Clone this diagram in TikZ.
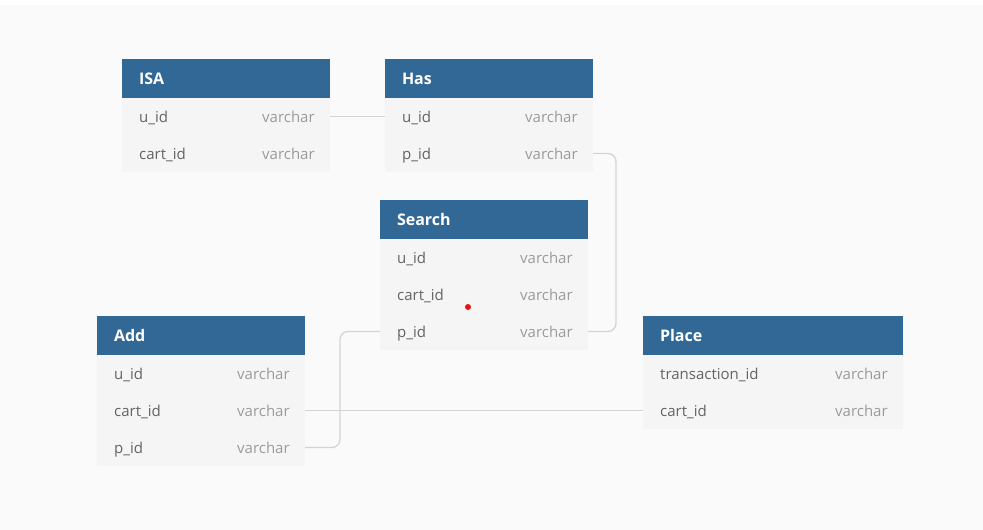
\documentclass[tikz,border=0pt]{standalone}
\usepackage{fontspec}
\setmainfont{Open Sans}
\usetikzlibrary{calc,positioning}

\definecolor{hdrblue}{RGB}{50,104,150}
\definecolor{rowgrey}{RGB}{245,245,245}
\definecolor{bggrey}{RGB}{250,250,250}
\definecolor{fldgrey}{RGB}{100,100,100}
\definecolor{typgrey}{RGB}{155,155,155}
\definecolor{linkgrey}{RGB}{212,212,212}
\definecolor{dotred}{RGB}{230,20,20}

\tikzset{
  hdr/.style={fill=hdrblue, text=white, font=\fontsize{16}{18}\selectfont\bfseries,
    anchor=north west, minimum height=39pt, inner xsep=17pt, inner ysep=0pt,
    outer sep=0pt, align=left},
  row/.style={fill=rowgrey, anchor=north west, minimum height=37pt,
    inner sep=0pt, outer sep=0pt},
  fld/.style={text=fldgrey, font=\fontsize{15}{17}\selectfont, anchor=mid west,
    inner sep=0pt, yshift=-3pt},
  typ/.style={text=typgrey, font=\fontsize{15}{17}\selectfont, anchor=mid west,
    inner sep=0pt, yshift=-3pt},
  link/.style={draw=linkgrey, line width=1.3pt, rounded corners=8pt}
}

% name, corner, width, title, fields
\newcommand{\ertable}[5]{%
  \pgfmathsetmacro\tw{#3-34}
  \pgfmathsetmacro\ty{#3-68}
  \node[hdr, text width=\tw pt] (#1) at (#2) {#4};
  \foreach \f/\k [count=\i from 0] in {#5} {
    \node[row, minimum width=#3pt] (#1-\k) at ($(#1.south west)+(0,\i*37)$) {};
    \node[fld] at ([xshift=17pt]#1-\k.west) {\f};
    \node[typ] at ([xshift=\ty pt]#1-\k.west) {varchar};
  }
}

\begin{document}
\begin{tikzpicture}[x=1pt, y=-1pt]
\useasboundingbox (0,0) rectangle (983,530);
\fill[white] (0,0) rectangle (983,530);
\fill[bggrey] (0,5) rectangle (983,530);

\ertable{isa}{122,59}{208}{ISA}{u\_id/uid, cart\_id/cartid}
\ertable{has}{385,59}{208}{Has}{u\_id/uid, p\_id/pid}
\ertable{search}{380,200}{208}{Search}{u\_id/uid, cart\_id/cartid, p\_id/pid}
\ertable{add}{97,316}{208}{Add}{u\_id/uid, cart\_id/cartid, p\_id/pid}
\ertable{place}{643,316}{260}{Place}{transaction\_id/tid, cart\_id/cartid}

\draw[link] (isa-uid.east) -- (has-uid.west);
\draw[link] (has-pid.east) -- ++(23,0) |- (search-pid.east);
\draw[link] (add-pid.east) -- ++(35,0) |- (search-pid.west);
\draw[link] (add-cartid.east) -- (place-cartid.west);

\fill[dotred] (468,307) circle (3pt);
\end{tikzpicture}
\end{document}
